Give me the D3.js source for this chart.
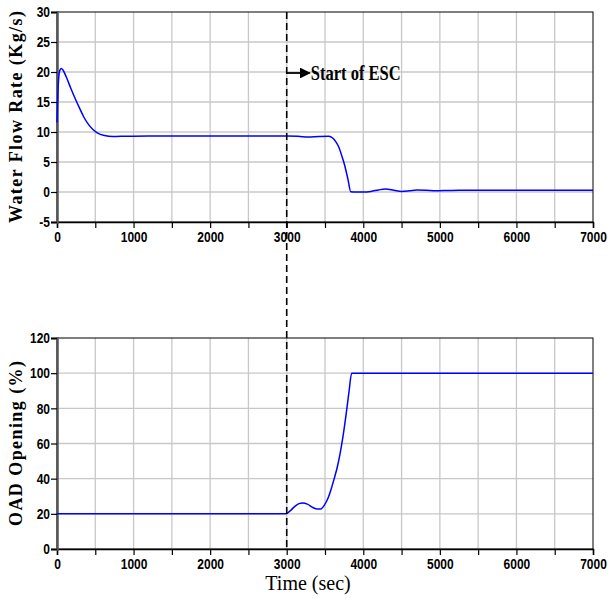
<!DOCTYPE html>
<html>
<head>
<meta charset="utf-8">
<script src="https://cdn.jsdelivr.net/npm/d3@7"></script>
<style>
  body { margin: 0; background: #fff; }
</style>
</head>
<body>
<svg id="chart" width="608" height="599"></svg>
<script>
// water flow rate (kg/s) vs time (sec)
const flowTime = [0, 15, 35, 55, 80, 120, 180, 240, 290, 350, 420, 520, 620, 730, 900, 1200, 2000, 3000, 3150, 3280, 3420, 3550, 3600, 3640, 3680, 3720, 3760, 3800, 3836, 3900, 4000, 4100, 4200, 4290, 4400, 4500, 4600, 4700, 4820, 4950, 5100, 5250, 5500, 6000, 7000];
const flowValue = [11.6, 17.5, 20.2, 20.6, 20.3, 19.2, 17.3, 15.5, 14.1, 12.5, 11.1, 9.9, 9.4, 9.25, 9.3, 9.35, 9.35, 9.35, 9.3, 9.15, 9.25, 9.3, 9.0, 8.4, 7.5, 6.0, 4.3, 2.1, 0.05, 0.0, 0.0, 0.1, 0.35, 0.5, 0.3, 0.1, 0.2, 0.35, 0.3, 0.2, 0.25, 0.3, 0.28, 0.3, 0.3];

// OAD opening (%) vs time (sec)
const oadTime = [0, 1000, 2000, 2980, 3040, 3100, 3160, 3210, 3270, 3340, 3400, 3440, 3490, 3540, 3580, 3620, 3660, 3700, 3740, 3780, 3815, 3848, 3900, 5000, 7000];
const oadValue = [20, 20, 20, 20, 21.5, 24, 25.8, 26.2, 25.5, 23.6, 22.7, 22.7, 24.8, 29, 34, 40, 46.5, 55, 65.5, 78, 90, 100, 100, 100, 100];

const timeTicks = [0, 1000, 2000, 3000, 4000, 5000, 6000, 7000];
const timeGrid = [500, 1000, 1500, 2000, 2500, 3000, 3500, 4000, 4500, 5000, 5500, 6000, 6500];
const flowTicks = [-5, 0, 5, 10, 15, 20, 25, 30];
const oadTicks = [0, 20, 40, 60, 80, 100, 120];

const escTime = 3000;
const flowLabel = "Water Flow Rate (Kg/s)";
const oadLabel = "OAD Opening (%)";
const timeLabel = "Time (sec)";
const escLabel = "Start of ESC";

const svg = d3.select("#chart");
const left = 57, right = 593;
const squeeze = 0.8;

const x = d3.scaleLinear().domain([0, 7000]).range([left, right]);
const yTop = d3.scaleLinear().domain([-5, 30]).range([222, 12]);
const yBot = d3.scaleLinear().domain([0, 120]).range([549, 338]);

// narrow bold tick labels, like the original
function narrow(sel) {
  sel.selectAll(".tick text")
    .attr("font-family", "'Liberation Sans', Arial, sans-serif")
    .attr("font-weight", "bold")
    .attr("font-size", 15)
    .attr("fill", "#000")
    .attr("transform", `scale(${squeeze},1)`);
}

function drawPanel(y, yTicks, xs, ys, label, labelLen) {
  const [y0, y1] = y.range();
  const g = svg.append("g");

  // grid
  g.selectAll(".vg").data(timeGrid).enter().append("line")
    .attr("x1", d => x(d)).attr("x2", d => x(d))
    .attr("y1", y1).attr("y2", y0)
    .attr("stroke", "#c8c8c8").attr("stroke-width", 1.3);
  g.selectAll(".hg").data(yTicks.slice(1, -1)).enter().append("line")
    .attr("x1", left).attr("x2", right)
    .attr("y1", d => y(d)).attr("y2", d => y(d))
    .attr("stroke", "#c8c8c8").attr("stroke-width", 1.3);

  // frame
  g.append("rect").attr("x", left).attr("y", y1)
    .attr("width", right - left).attr("height", y0 - y1)
    .attr("fill", "none").attr("stroke", "#000").attr("stroke-width", 1);

  // axes
  const xAxis = g.append("g").attr("transform", `translate(0,${y0})`)
    .call(d3.axisBottom(x).tickValues(d3.range(0, 7001, 500)).tickSize(6).tickPadding(3)
      .tickFormat(d => timeTicks.includes(d) ? String(d) : ""));
  xAxis.select(".domain").attr("stroke", "#000").attr("stroke-width", 1.5);
  xAxis.selectAll(".tick line").attr("stroke", "#000").attr("stroke-width", 1.2);
  narrow(xAxis);

  const yAxis = g.append("g").attr("transform", `translate(${left},0)`)
    .call(d3.axisLeft(y).tickValues(yTicks).tickSize(6).tickPadding(1).tickFormat(d => String(d)));
  yAxis.select(".domain").attr("stroke", "#555").attr("stroke-width", 2.5);
  yAxis.selectAll(".tick line").attr("stroke", "#000").attr("stroke-width", 1.2);
  narrow(yAxis);
  yAxis.selectAll(".tick text").attr("x", -7 / squeeze);

  // series
  const pts = xs.map((t, i) => [t, ys[i]]);
  g.append("path").datum(pts)
    .attr("fill", "none").attr("stroke", "#0000ff").attr("stroke-width", 1.5)
    .attr("d", d3.line().x(d => x(d[0])).y(d => y(d[1])).curve(d3.curveMonotoneX));

  // y label
  g.append("text")
    .attr("transform", `translate(22,${(y0 + y1) / 2}) rotate(-90)`)
    .attr("text-anchor", "middle")
    .attr("font-family", "'Liberation Serif', 'Times New Roman', serif")
    .attr("font-weight", "bold").attr("font-size", 18)
    .attr("textLength", labelLen).attr("lengthAdjust", "spacing")
    .text(label);
}

drawPanel(yTop, flowTicks, flowTime, flowValue, flowLabel, 212);
drawPanel(yBot, oadTicks, oadTime, oadValue, oadLabel, 165);

// dashed ESC start line
svg.append("line")
  .attr("x1", x(escTime)).attr("x2", x(escTime))
  .attr("y1", yTop(30)).attr("y2", yBot(0))
  .attr("stroke", "#000").attr("stroke-width", 1.6)
  .attr("stroke-dasharray", "7,4");

// arrow annotation
svg.append("defs").append("marker")
  .attr("id", "arr").attr("viewBox", "0 0 10 10").attr("refX", 9).attr("refY", 5)
  .attr("markerWidth", 6).attr("markerHeight", 6).attr("orient", "auto")
  .append("path").attr("d", "M0,0L10,5L0,10z").attr("fill", "#000");
svg.append("line")
  .attr("x1", x(escTime)).attr("x2", x(escTime) + 23)
  .attr("y1", 73).attr("y2", 73)
  .attr("stroke", "#000").attr("stroke-width", 1.8)
  .attr("marker-end", "url(#arr)");
svg.append("text")
  .attr("x", x(escTime) + 24).attr("y", 80)
  .attr("font-family", "'Liberation Serif', 'Times New Roman', serif")
  .attr("font-weight", "bold").attr("font-size", 20)
  .attr("textLength", 90).attr("lengthAdjust", "spacingAndGlyphs")
  .text(escLabel);

// x label
svg.append("text")
  .attr("x", 308).attr("y", 590)
  .attr("text-anchor", "middle")
  .attr("font-family", "'Liberation Serif', 'Times New Roman', serif")
  .attr("font-size", 20)
  .text(timeLabel);
</script>
</body>
</html>
